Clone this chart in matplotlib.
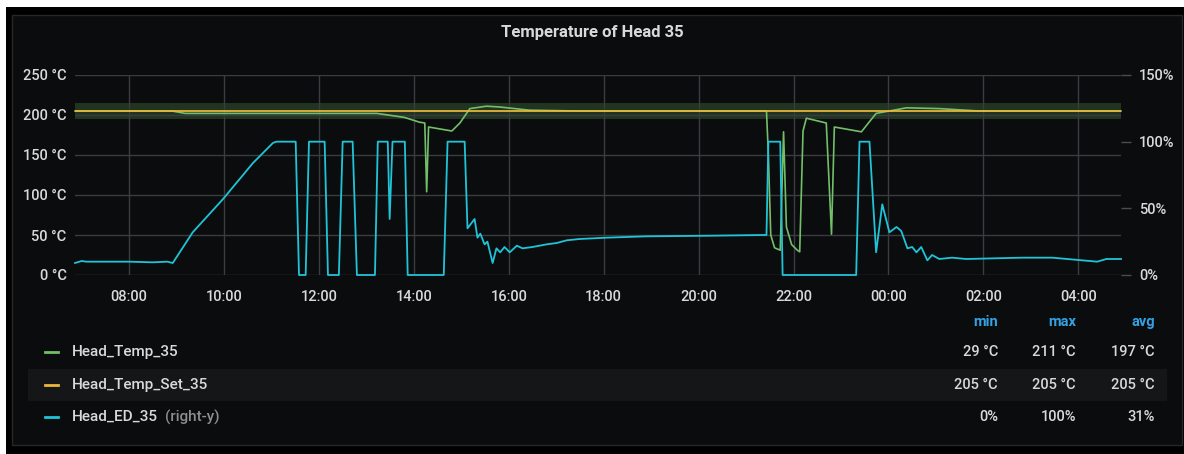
"""Grafana-style panel: head temperature vs. set point and ED duty (right axis)."""
import matplotlib
matplotlib.use('Agg')

import matplotlib.pyplot as plt
from matplotlib.lines import Line2D
from matplotlib.patches import Rectangle

plt.rcParams['font.family'] = ['Roboto', 'DejaVu Sans']
plt.rcParams['font.weight'] = 'medium'

# --- data (time in hours from day-1 midnight) ---
temp_time = [6.86, 8.90, 9.18, 13.22, 13.80, 14.12, 14.23, 14.27, 14.31, 14.80,
             14.97, 15.18, 15.53, 15.81, 16.44, 17.50, 21.43, 21.47, 21.52, 21.60,
             21.72, 21.79, 21.85, 21.96, 22.08, 22.13, 22.20, 22.27, 22.69, 22.80,
             22.86, 23.43, 23.74, 24.02, 24.38, 25.07, 25.91, 28.90]
temp_vals = [205, 205, 202, 202, 197, 191, 190, 104, 185, 180,
             190, 208, 211, 210, 206, 205, 205, 150, 50, 34,
             31, 179, 60, 38, 31, 29, 180, 196, 190, 51,
             185, 179, 202, 205, 209, 208, 205, 205]

set_time = [6.86, 28.90]
set_vals = [205, 205]

ed_time = [6.86, 7.00, 7.10, 8.00, 8.50, 8.80, 8.92, 9.34, 9.98, 10.61,
           11.03, 11.10, 11.51, 11.58, 11.72, 11.79, 12.12, 12.19, 12.42, 12.50,
           12.71, 12.80, 13.18, 13.24, 13.45, 13.49, 13.55, 13.81, 13.87, 14.63,
           14.71, 15.07, 15.13, 15.28, 15.34, 15.40, 15.49, 15.55, 15.66, 15.74,
           15.82, 15.91, 16.02, 16.17, 16.29, 16.50, 16.80, 17.01, 17.22, 17.49,
           18.06, 18.90, 20.29, 21.34, 21.43, 21.47, 21.72, 21.77, 23.32, 23.39,
           23.60, 23.74, 23.87, 24.02, 24.17, 24.27, 24.40, 24.50, 24.59, 24.69,
           24.82, 24.92, 25.07, 25.34, 25.64, 26.82, 27.45, 28.40, 28.59, 28.90]
ed_vals = [9, 10.5, 10, 10, 9.5, 10, 9, 32, 57, 84,
           99, 100, 100, 0, 0, 100, 100, 0, 0, 100,
           100, 0, 0, 100, 100, 42, 100, 100, 0, 0,
           100, 100, 35, 42, 28, 31, 23, 25, 9, 20,
           17, 21, 17, 22, 20, 21, 23, 24, 26, 27,
           28, 29, 29.5, 30, 30, 100, 100, 0, 0, 100,
           100, 17, 53, 32, 36, 33, 20, 21, 17, 21,
           11, 15, 12, 13, 12, 13, 13, 10, 12, 12]

hour_ticks = [8, 10, 12, 14, 16, 18, 20, 22, 24, 26, 28]
temp_ticks = [0, 50, 100, 150, 200, 250]
ed_ticks = [0, 50, 100, 150]

series_names = ['Head_Temp_35', 'Head_Temp_Set_35', 'Head_ED_35']
series_colors = ['#73bf69', '#eab839', '#1fc4d8']
stat_headers = ['min', 'max', 'avg']
stat_rows = [['29 °C', '211 °C', '197 °C'],
             ['205 °C', '205 °C', '205 °C'],
             ['0%', '100%', '31%']]

W, H = 1184, 454
BG = '#0b0c0e'
TXT = '#d8d9da'
GRID = '#3a3c40'


def fx(x):
    return x / W


def fy(y):
    return 1 - y / H


fig = plt.figure(figsize=(W / 100, H / 100), dpi=100)
fig.patch.set_facecolor('white')
fig.add_artist(Rectangle((fx(6), 0), 1 - fx(6), fy(7), transform=fig.transFigure,
                         fc='black', ec='none', zorder=-10))
fig.add_artist(Rectangle((fx(12), fy(445)), fx(1182) - fx(12), fy(15) - fy(445),
                         transform=fig.transFigure, fc=BG, ec='#25272b', lw=1, zorder=-9))
# highlighted legend row
fig.add_artist(Rectangle((fx(28), fy(401)), fx(1167) - fx(28), fy(369) - fy(401),
                         transform=fig.transFigure, fc='#141618', ec='none', zorder=-8))

ax = fig.add_axes([fx(75), fy(275), fx(1121) - fx(75), fy(75) - fy(275)])
ax.set_facecolor('none')
ax.axhspan(195, 215, color='#73bf69', alpha=0.22, lw=0)
ax.plot(temp_time, temp_vals, color=series_colors[0], lw=1.2, clip_on=False)
ax.plot(set_time, set_vals, color=series_colors[1], lw=1.4, alpha=0.9)
ax.set_xlim(6.86, 28.90)
ax.set_ylim(0, 250)
ax.set_xticks(hour_ticks)
ax.set_xticklabels([f'{h % 24:02d}:00' for h in hour_ticks])
ax.set_yticks(temp_ticks)
ax.set_yticklabels([f'{t} °C' for t in temp_ticks])
ax.grid(True, color=GRID, lw=1)
ax.tick_params(axis='both', length=0, colors=TXT, labelsize=10.5)
ax.tick_params(axis='x', pad=11)
ax.tick_params(axis='y', pad=6)
for s in ax.spines.values():
    s.set_visible(False)

ax2 = ax.twinx()
ax2.set_facecolor('none')
ax2.plot(ed_time, ed_vals, color=series_colors[2], lw=1.3, clip_on=False)
ax2.set_ylim(0, 150)
ax2.set_yticks(ed_ticks)
ax2.set_yticklabels([f'{t}%' for t in ed_ticks])
ax2.tick_params(axis='y', length=7, width=1, color='#4a4c50', colors=TXT,
                labelsize=10.5, pad=6)
for s in ax2.spines.values():
    s.set_visible(False)

fig.text(0.5, fy(32), 'Temperature of Head 35', ha='center', va='center',
         color=TXT, fontsize=12, fontweight='bold')

# legend table
stat_x = [998, 1076, 1155]
for x, head in zip(stat_x, stat_headers):
    fig.text(fx(x), fy(322), head, ha='right', va='center', color='#33a2e5',
             fontsize=10.5, fontweight='bold')
row_y = [352, 385, 417]
for y, name, color, stats in zip(row_y, series_names, series_colors, stat_rows):
    fig.add_artist(Line2D([fx(45), fx(58)], [fy(y), fy(y)], color=color, lw=2,
                          transform=fig.transFigure))
    fig.text(fx(72), fy(y), name, ha='left', va='center', color=TXT, fontsize=11)
    for x, val in zip(stat_x, stats):
        fig.text(fx(x), fy(y), val, ha='right', va='center', color=TXT, fontsize=10.5)
fig.text(fx(165), fy(417), '(right-y)', ha='left', va='center', color='#8e8e8e',
         fontsize=11)

fig.savefig('out.png', dpi=100)
